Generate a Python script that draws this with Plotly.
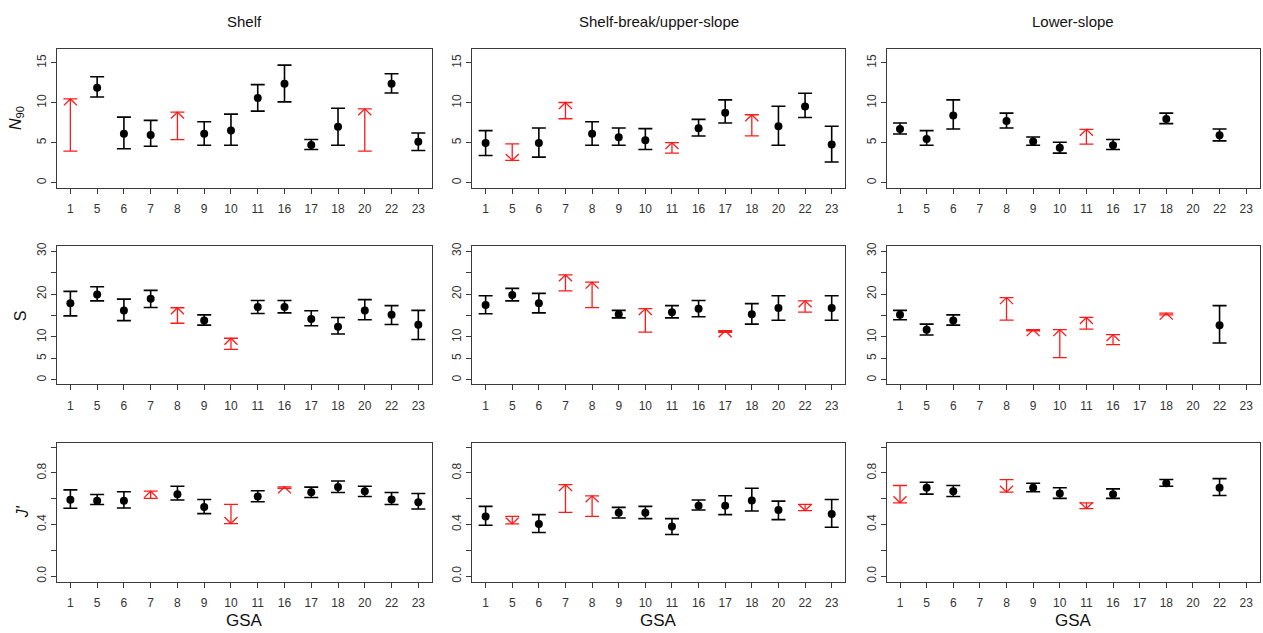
import plotly.graph_objects as go

GSA = ["1", "5", "6", "7", "8", "9", "10", "11", "16", "17", "18", "20", "22", "23"]
COLUMNS = ["Shelf", "Shelf-break/upper-slope", "Lower-slope"]
N = None

# ---- N90 ----
shelf_n90_lo = [3.94, 10.73, 4.23, 4.56, 5.39, 4.68, 4.68, 8.95, 10.11, 4.14, 4.68, 3.94, 11.23, 4.02]
shelf_n90_mid = [N, 11.89, 6.13, 5.97, N, 6.13, 6.51, 10.61, 12.39, 4.72, 7.0, N, 12.39, 5.1]
shelf_n90_hi = [10.48, 13.26, 8.2, 7.79, 8.83, 7.63, 8.58, 12.27, 14.71, 5.39, 9.32, 9.24, 13.63, 6.22]
shelf_n90_arrow = ["up", "", "", "", "up", "", "", "", "", "", "", "up", "", ""]

break_n90_lo = [3.4, 2.78, 3.19, 8.0, 4.68, 4.68, 4.14, 3.69, 5.84, 7.46, 5.84, 4.68, 8.16, 2.57]
break_n90_mid = [4.97, N, 4.97, N, 6.13, 5.68, 5.3, N, 6.8, 8.74, N, 7.05, 9.53, 4.77]
break_n90_hi = [6.51, 4.85, 6.84, 10.03, 7.63, 6.84, 6.76, 5.01, 7.92, 10.36, 8.5, 9.57, 11.19, 7.05]
break_n90_arrow = ["", "down", "", "up", "", "", "", "up", "", "", "up", "", "", ""]

lower_n90_lo = [6.09, 4.68, 6.71, N, 6.84, 4.68, 3.69, 4.81, 4.14, N, 7.38, N, 5.22, N]
lower_n90_mid = [6.71, 5.47, 8.41, N, 7.71, 5.14, 4.35, N, 4.68, N, 7.96, N, 5.93, N]
lower_n90_hi = [7.46, 6.51, 10.36, N, 8.7, 5.72, 5.06, 6.67, 5.39, N, 8.7, N, 6.71, N]
lower_n90_arrow = ["", "", "", "", "", "", "", "up", "", "", "", "", "", ""]

# ---- S ----
shelf_s_lo = [14.9, 18.4, 13.8, 16.85, 13.2, 12.75, 7.1, 15.45, 15.6, 12.6, 10.7, 14.0, 12.9, 9.4]
shelf_s_mid = [17.85, 19.9, 16.15, 18.9, N, 13.85, N, 17.0, 17.0, 14.2, 12.4, 16.15, 15.15, 12.85]
shelf_s_hi = [20.6, 21.7, 18.8, 20.85, 16.8, 15.15, 9.7, 18.5, 18.5, 16.1, 14.55, 18.7, 17.3, 16.2]
shelf_s_arrow = ["", "", "", "", "up", "", "up", "", "", "", "", "", "", ""]

break_s_lo = [15.4, 18.4, 15.6, 20.75, 16.85, 14.45, 11.15, 14.45, 14.7, 11.1, 13.0, 13.9, 15.8, 13.9]
break_s_mid = [17.45, 19.75, 17.85, N, N, 15.3, N, 15.75, 16.55, N, 15.3, 16.75, N, 16.75]
break_s_hi = [19.6, 21.3, 20.15, 24.45, 22.75, 16.2, 16.6, 17.3, 18.5, 11.45, 17.75, 19.6, 18.4, 19.6]
break_s_arrow = ["", "", "", "up", "up", "", "up", "", "", "up", "", "", "up", ""]

lower_s_lo = [14.0, 10.45, 12.75, N, 13.9, 11.4, 5.2, 11.85, 8.24, N, 15.15, N, 8.6, N]
lower_s_mid = [15.15, 11.7, 13.85, N, N, N, N, N, N, N, N, N, 12.75, N]
lower_s_hi = [16.2, 13.0, 15.15, N, 19.15, 11.7, 11.7, 14.54, 10.55, N, 15.53, N, 17.3, N]
lower_s_arrow = ["", "", "", "", "up", "up", "up", "up", "up", "", "up", "", "", ""]

# ---- J' ----
shelf_j_lo = [0.526, 0.556, 0.528, 0.603, 0.59, 0.485, 0.408, 0.577, 0.68, 0.61, 0.649, 0.618, 0.556, 0.521]
shelf_j_mid = [0.592, 0.585, 0.585, N, 0.636, 0.536, N, 0.618, N, 0.651, 0.692, 0.659, 0.595, 0.574]
shelf_j_hi = [0.669, 0.633, 0.654, 0.659, 0.697, 0.595, 0.556, 0.662, 0.692, 0.69, 0.738, 0.697, 0.649, 0.641]
shelf_j_arrow = ["", "", "", "up", "", "", "down", "", "up", "", "", "", "", ""]

break_j_lo = [0.395, 0.405, 0.338, 0.495, 0.464, 0.451, 0.446, 0.323, 0.513, 0.477, 0.505, 0.438, 0.508, 0.379]
break_j_mid = [0.462, N, 0.405, N, N, 0.492, 0.492, 0.385, 0.546, 0.546, 0.587, 0.513, N, 0.482]
break_j_hi = [0.541, 0.464, 0.477, 0.71, 0.623, 0.533, 0.541, 0.446, 0.59, 0.623, 0.682, 0.582, 0.556, 0.595]
break_j_arrow = ["", "down", "", "up", "up", "", "", "", "", "", "", "", "down", ""]

lower_j_lo = [0.569, 0.636, 0.618, N, 0.651, 0.654, 0.603, 0.523, 0.603, N, 0.697, N, 0.626, N]
lower_j_mid = [N, 0.685, 0.659, N, N, 0.685, 0.641, N, 0.636, N, 0.721, N, 0.685, N]
lower_j_hi = [0.703, 0.728, 0.703, N, 0.749, 0.721, 0.685, 0.569, 0.677, N, 0.749, N, 0.756, N]
lower_j_arrow = ["down", "", "", "", "down", "", "", "down", "", "", "", "", "", ""]

# labelled y ticks and unlabelled (minor) y ticks per row
Y_TICKS = [[0, 5, 10, 15], [0, 5, 10, 20, 30], [0.0, 0.4, 0.8]]
Y_TICKTEXT = [["0", "5", "10", "15"], ["0", "5", "10", "20", "30"], ["0.0", "0.4", "0.8"]]
Y_MINOR = [[], [15, 25], [0.2, 0.6, 1.0]]
Y_RANGES = [[-0.62, 16.78], [-1.0, 31.15], [-0.043, 1.034]]
Y_LABELS = ["<i>N</i><sub>90</sub>", "S", "<i>J'</i>"]

panels = [
    [(shelf_n90_lo, shelf_n90_mid, shelf_n90_hi, shelf_n90_arrow),
     (break_n90_lo, break_n90_mid, break_n90_hi, break_n90_arrow),
     (lower_n90_lo, lower_n90_mid, lower_n90_hi, lower_n90_arrow)],
    [(shelf_s_lo, shelf_s_mid, shelf_s_hi, shelf_s_arrow),
     (break_s_lo, break_s_mid, break_s_hi, break_s_arrow),
     (lower_s_lo, lower_s_mid, lower_s_hi, lower_s_arrow)],
    [(shelf_j_lo, shelf_j_mid, shelf_j_hi, shelf_j_arrow),
     (break_j_lo, break_j_mid, break_j_hi, break_j_arrow),
     (lower_j_lo, lower_j_mid, lower_j_hi, lower_j_arrow)],
]

W, H = 1263, 633
COL_PX = [(57, 431.7), (472.3, 845), (886.7, 1259.5)]
ROW_PX = [(45, 185), (244, 383.3), (442.3, 582.3)]
ARROW_PX = 6.5
RED = "#ff1a1a"
AXIS_COLOR = "#3a3a3a"
FONT = "Liberation Sans, Arial, sans-serif"

fig = go.Figure()
layout = dict(width=W, height=H, margin=dict(l=0, r=0, t=0, b=0),
              plot_bgcolor="white", paper_bgcolor="white", showlegend=False,
              font=dict(family=FONT, color="#333333"))
annotations = []
pos = list(range(1, len(GSA) + 1))

for r in range(3):
    for c in range(3):
        k = r * 3 + c + 1
        xa = "x" if k == 1 else f"x{k}"
        ya = "y" if k == 1 else f"y{k}"
        lo, mid, hi, arrow = panels[r][c]
        x0, x1 = COL_PX[c]
        y0, y1 = ROW_PX[r]
        yr = Y_RANGES[r]
        px_per_unit = (y1 - y0) / (yr[1] - yr[0])
        px_per_cat = (x1 - x0) / 14.0
        dy = ARROW_PX / px_per_unit
        dx = ARROW_PX / px_per_cat

        # black estimates with CI
        bx, by, bp, bm = [], [], [], []
        for i in range(len(GSA)):
            if mid[i] is not None and arrow[i] == "":
                bx.append(pos[i]); by.append(mid[i])
                bp.append(hi[i] - mid[i]); bm.append(mid[i] - lo[i])
        fig.add_trace(go.Scatter(
            x=bx, y=by, mode="markers", xaxis=xa, yaxis=ya,
            marker=dict(size=8, color="black"),
            error_y=dict(type="data", symmetric=False, array=bp, arrayminus=bm,
                         color="black", thickness=1.6, width=7)))

        # red intervals with arrows
        rx, ry, rp = [], [], []
        ax_, ay_ = [], []
        for i in range(len(GSA)):
            if arrow[i] in ("up", "down"):
                rx.append(pos[i]); ry.append(lo[i]); rp.append(hi[i] - lo[i])
                if arrow[i] == "up":
                    tip, base = hi[i], hi[i] - dy
                else:
                    tip, base = lo[i], lo[i] + dy
                ax_ += [pos[i] - dx, pos[i], pos[i] + dx, None]
                ay_ += [base, tip, base, None]
        if rx:
            fig.add_trace(go.Scatter(
                x=rx, y=ry, mode="markers", xaxis=xa, yaxis=ya,
                marker=dict(size=2, color="rgba(0,0,0,0)"),
                error_y=dict(type="data", symmetric=False, array=rp,
                             arrayminus=[0] * len(rp), color=RED,
                             thickness=1.3, width=7)))
            fig.add_trace(go.Scatter(
                x=ax_, y=ay_, mode="lines", xaxis=xa, yaxis=ya,
                line=dict(color=RED, width=1.3), connectgaps=False))

        axis_common = dict(showline=True, mirror=True, linecolor=AXIS_COLOR,
                           linewidth=1.3, ticks="outside", ticklen=5,
                           tickcolor=AXIS_COLOR, tickwidth=1.2, showgrid=False,
                           zeroline=False, tickfont=dict(size=12, color="#333333"))
        layout["xaxis" if k == 1 else f"xaxis{k}"] = dict(
            domain=[x0 / W, x1 / W], anchor=ya, range=[0.5, 14.5],
            tickmode="array", tickvals=pos, ticktext=GSA,
            ticklabelstandoff=5, **axis_common)
        yaxis = dict(
            domain=[1 - y1 / H, 1 - y0 / H], anchor=xa, range=yr,
            tickmode="array", tickvals=Y_TICKS[r], ticktext=Y_TICKTEXT[r],
            tickangle=-90, **axis_common)
        if Y_MINOR[r]:
            yaxis["minor"] = dict(tickmode="array", tickvals=Y_MINOR[r],
                                  ticks="outside", ticklen=5, tickwidth=1.2,
                                  tickcolor=AXIS_COLOR, showgrid=False)
        layout["yaxis" if k == 1 else f"yaxis{k}"] = yaxis

# column titles and GSA labels
for c in range(3):
    xc = (COL_PX[c][0] + COL_PX[c][1]) / 2 / W
    annotations.append(dict(x=xc, y=1 - 18 / H, xref="paper", yref="paper",
                            text=COLUMNS[c], showarrow=False,
                            font=dict(size=15, color="#111111"),
                            xanchor="center", yanchor="middle"))
    annotations.append(dict(x=xc, y=1 - 621 / H, xref="paper", yref="paper",
                            text="GSA", showarrow=False,
                            font=dict(size=17, color="#111111"),
                            xanchor="center", yanchor="middle"))
LABEL_X = [16, 20, 22]
for r in range(3):
    yc = 1 - (ROW_PX[r][0] + ROW_PX[r][1]) / 2 / H
    annotations.append(dict(x=LABEL_X[r] / W, y=yc, xref="paper", yref="paper",
                            text=Y_LABELS[r], showarrow=False, textangle=-90,
                            font=dict(size=16, color="#111111"),
                            xanchor="center", yanchor="middle"))
layout["annotations"] = annotations
fig.update_layout(**layout)
fig.write_html("out.html", config={"displayModeBar": False},
               post_script="document.body.style.margin='0px';document.body.style.overflow='hidden';")
